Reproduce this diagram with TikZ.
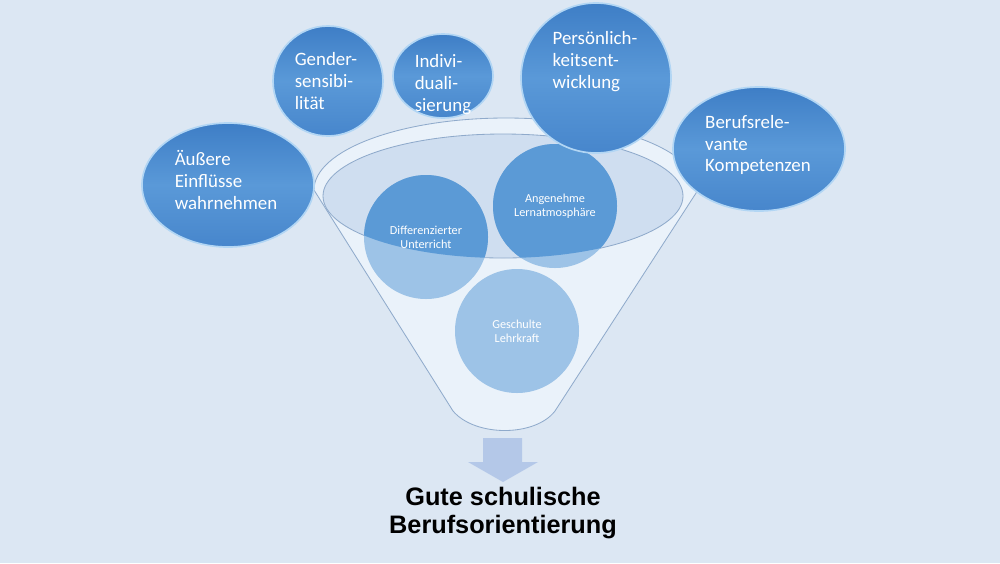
\documentclass[tikz,border=0pt]{standalone}
\usepackage{fontspec}
\setmainfont{Carlito}
\newfontfamily\titlefont{Liberation Sans}
\usetikzlibrary{calc}
\definecolor{bgblue}{HTML}{DCE7F3}
\definecolor{funnelfill}{HTML}{EAF2FA}
\definecolor{funneledge}{HTML}{8FAACB}
\definecolor{rimfill}{HTML}{CFDEF0}
\definecolor{balldark}{HTML}{5B9AD6}
\definecolor{balllight}{HTML}{9DC3E7}
\definecolor{bubtop}{HTML}{3E7EC6}
\definecolor{bubmid}{HTML}{5A99D8}
\definecolor{bubbot}{HTML}{4786CC}
\definecolor{bubrim}{HTML}{B2D6F4}
\definecolor{arrowfill}{HTML}{B4C8E8}
\tikzset{
  bubble/.style={top color=bubtop, bottom color=bubbot, middle color=bubmid, draw=bubrim, line width=1.2pt},
  bubtext/.style={text=white, align=left, inner sep=0pt, font=\fontsize{13.6}{15.8}\selectfont},
  balltext/.style={text=white, align=center, inner sep=0pt, font=\fontsize{8.8}{10.2}\selectfont}
}

\begin{document}
\begin{tikzpicture}[x=0.72pt, y=-0.72pt]
	\useasboundingbox (0,0) rectangle (1000,563);
	\fill[bgblue] (0,0) rectangle (1000,563);
	\filldraw[fill=funnelfill, draw=funneledge, line width=0.6pt]
	    (314,190) arc[start angle=180, end angle=360, x radius=192, y radius=72]
	    -- (555,411) .. controls (535,437) and (475,437) .. (453,411) -- cycle;
	\filldraw[fill=rimfill, draw=funneledge, line width=0.6pt]
	    (503,196) ellipse[x radius=180, y radius=62];
	\coordinate (cdif) at (426,237);
	\coordinate (cang) at (555,206);
	\coordinate (cges) at (517,331);
	\fill[balllight] (cdif) circle[radius=62] (cang) circle[radius=62] (cges) circle[radius=62];
	\begin{scope}
	    \clip (503,196) ellipse[x radius=180, y radius=62];
	    \fill[balldark] (cdif) circle[radius=62] (cang) circle[radius=62];
	\end{scope}
	\node[balltext] (dif) at (cdif) {Differenzierter\\Unterricht};
	\node[balltext] (ang) at (cang) {Angenehme\\Lernatmosphäre};
	\node[balltext] (ges) at (cges) {Geschulte\\Lehrkraft};
	\filldraw[bubble] (228,185) ellipse[x radius=86, y radius=62];
	\node[bubtext] (aussen) at (226,180) {Äußere\\Einflüsse\\wahrnehmen};
	\filldraw[bubble] (328,81) circle[radius=55];
	\node[bubtext] (gender) at (326,81) {Gender-\\sensibi-\\lität};
	\filldraw[bubble] (443,76) ellipse[x radius=50, y radius=42];
	\node[bubtext] (indiv) at (443,85) {Indivi-\\duali-\\sierung};
	\filldraw[bubble] (596,78) circle[radius=75];
	\node[bubtext] (pers) at (595,62) {Persönlich-\\keitsent-\\wicklung};
	\filldraw[bubble] (759,149) ellipse[x radius=86, y radius=62];
	\node[bubtext] (beruf) at (758,145) {Berufsrele-\\vante\\Kompetenzen};
	\fill[arrowfill] (483,438) -- (522,438) -- (522,462) -- (538,462) -- (503,482) -- (468,462) -- (483,462) -- cycle;
	\node[font=\titlefont\fontsize{18.2}{19.6}\selectfont\bfseries, align=center, inner sep=0pt] (ziel) at (503,513) {Gute schulische\\Berufsorientierung};
\end{tikzpicture}
\end{document}
